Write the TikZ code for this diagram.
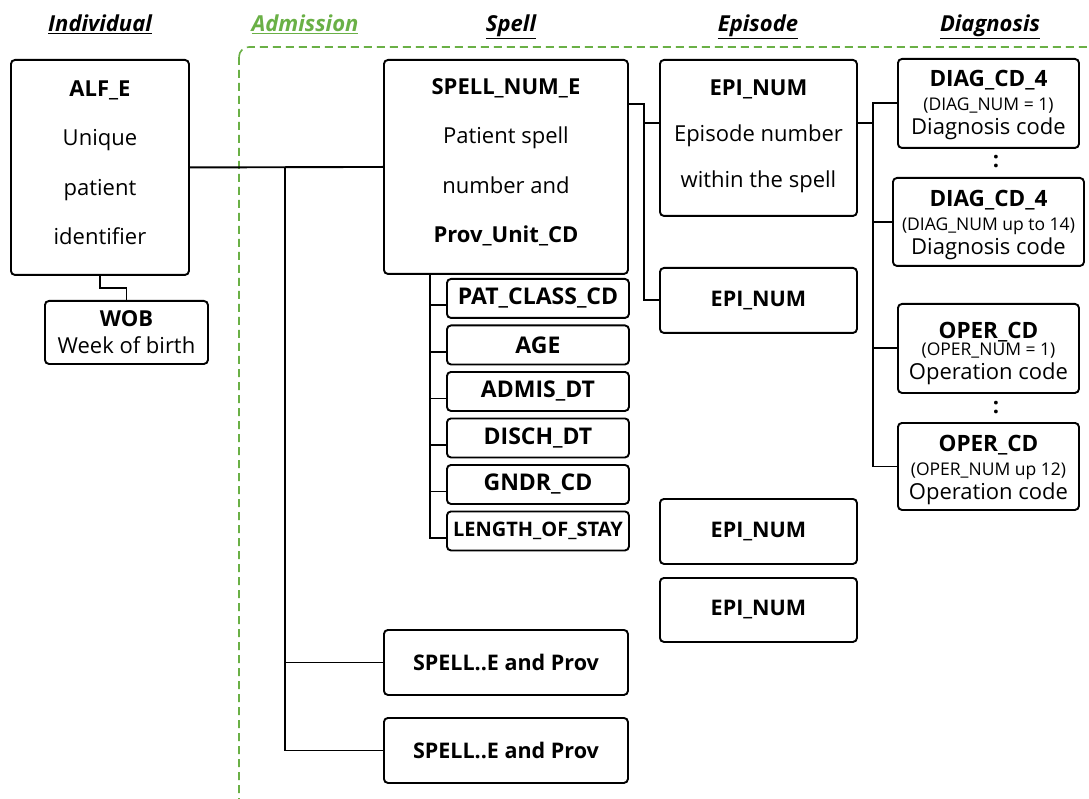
\documentclass[tikz,border=0pt]{standalone}
\usepackage{fontspec}
\setmainfont{Open Sans}
\definecolor{admgreen}{RGB}{106,176,70}
\tikzset{
  box/.style={draw, line width=1.9pt, rounded corners=4pt, anchor=north west, inner sep=0pt, align=center},
  conn/.style={line width=1.9pt},
  hdr/.style={font=\fontsize{22}{24}\selectfont\bfseries\itshape, anchor=base},
  attr/.style={box, minimum width=182pt, minimum height=39pt, font=\fontsize{23}{24}\selectfont\bfseries},
  onebold/.style={box, font=\fontsize{21.5}{24}\selectfont\bfseries},
  dg/.style={box, font=\fontsize{22}{24}\selectfont},
}
\newcommand{\smalltxt}[1]{{\fontsize{17.5}{24}\selectfont #1}}
\newcommand{\dgtitle}[1]{{\fontsize{22.5}{24}\selectfont\bfseries #1}}
\begin{document}
\begin{tikzpicture}[x=1pt,y=-1pt]
\useasboundingbox (0,0) rectangle (1089,799);
\begin{scope}
\clip (0,0) rectangle (1089,799);
\draw[admgreen, line width=1.6pt, dash pattern=on 8pt off 5pt, rounded corners=10pt] (239,47) rectangle (1120,830);
\end{scope}
% headers
\node[hdr] (hInd) at (100,32) {\underline{Individual}};
\node[hdr, text=admgreen] (hAdm) at (305,32) {\underline{Admission}};
\node[hdr] (hSp) at (511,32) {\underline{Spell}};
\node[hdr] (hEp) at (758,32) {\underline{Episode}};
\node[hdr] (hDg) at (990,32) {\underline{Diagnosis}};
% individual
\node[box, font=\fontsize{22}{49.5}\selectfont, minimum width=178pt, minimum height=215pt] (alf) at (10,59)
  {\textbf{ALF\_E}\\Unique\\patient\\identifier\\[-39.5pt]\mbox{}};
\node[box, font=\fontsize{22}{27}\selectfont, minimum width=163pt, minimum height=63pt] (wob) at (44,300)
  {\textbf{WOB}\\Week of birth};
% spells
\node[box, font=\fontsize{22}{49.5}\selectfont, minimum width=244pt, minimum height=214pt] (sp1) at (383,59)
  {\textbf{SPELL\_NUM\_E}\\Patient spell\\number and\\\textbf{Prov\_Unit\_CD}\\[-37pt]\mbox{}};
\node[onebold, minimum width=244pt, minimum height=65pt] (spA) at (383,629) {SPELL..E and Prov};
\node[onebold, minimum width=244pt, minimum height=65pt] (spB) at (383,717) {SPELL..E and Prov};
% attributes
\node[attr] (at1) at (446,278) {PAT\_CLASS\_CD};
\node[attr] (at2) at (446,324.5) {AGE};
\node[attr] (at3) at (446,371) {ADMIS\_DT};
\node[attr] (at4) at (446,417.5) {DISCH\_DT};
\node[attr] (at5) at (446,464) {GNDR\_CD};
\node[attr, font=\fontsize{20}{24}\selectfont\bfseries] (at6) at (446,510.5) {LENGTH\_OF\_STAY};
% episodes
\node[box, font=\fontsize{22}{46}\selectfont, minimum width=197pt, minimum height=156pt] (ep1) at (659,59)
  {\textbf{EPI\_NUM}\\Episode number\\within the spell\\[-37pt]\mbox{}};
\node[onebold, minimum width=197pt, minimum height=65pt] (ep2) at (659,267) {EPI\_NUM};
\node[onebold, minimum width=197pt, minimum height=65pt] (ep3) at (659,498) {EPI\_NUM};
\node[onebold, minimum width=197pt, minimum height=64pt] (ep4) at (659,577) {EPI\_NUM};
% diagnosis / operations
\node[dg, minimum width=181pt, minimum height=89pt] (dg1) at (897,58)
  {\mbox{}\\[-4pt]\dgtitle{DIAG\_CD\_4}\\\smalltxt{(DIAG\_NUM = 1)}\\Diagnosis code};
\node[dg, minimum width=191pt, minimum height=88pt] (dg2) at (892,177)
  {\mbox{}\\[-2pt]\dgtitle{DIAG\_CD\_4}\\\smalltxt{(DIAG\_NUM up to 14)}\\Diagnosis code};
\node[dg, minimum width=181pt, minimum height=89pt] (op1) at (897,303)
  {\mbox{}\\[2pt]\dgtitle{OPER\_CD}\\[-7pt]\smalltxt{(OPER\_NUM = 1)}\\Operation code};
\node[dg, minimum width=181pt, minimum height=87pt] (op2) at (897,422)
  {\mbox{}\\[-1pt]\dgtitle{OPER\_CD}\\\smalltxt{(OPER\_NUM up 12)}\\Operation code};
\node[font=\fontsize{22}{24}\selectfont\bfseries, inner sep=0pt] (col1) at (996,162) {:};
\node[font=\fontsize{22}{24}\selectfont\bfseries, inner sep=0pt] (col2) at (996,408) {:};
% connectors
\coordinate (b1) at (285,0);
\coordinate (b2) at (644,0);
\coordinate (b3) at (873,0);
\coordinate (b4) at (430,0);
\draw[conn] (alf.east) -- (sp1.west);
\draw[conn] (alf.east -| b1) |- (spB.west);
\draw[conn] (spA.west -| b1) -- (spA.west);
\draw[conn] (alf.south) -- ++(0,12) -| (wob.north);
\coordinate (s1o) at ([yshift=-45pt]sp1.north east);
\coordinate (e1i) at ([yshift=-64pt]ep1.north west);
\coordinate (e1o) at ([yshift=-64pt]ep1.north east);
\draw[conn] (s1o) -- (s1o -| b2) |- (ep2.west);
\draw[conn] (e1i -| b2) -- (e1i);
\draw[conn] (e1o) -- (e1o -| b3);
\draw[conn] (dg1.west) -| (b3 |- op2.west) -- (op2.west);
\draw[conn] (dg2.west -| b3) -- (dg2.west);
\draw[conn] (op1.west -| b3) -- (op1.west);
\draw[conn] (sp1.south -| b4) |- ([yshift=-7pt]at6.west);
\foreach \i in {1,...,5} {\draw[conn] ([yshift=-7pt]at\i.west -| b4) -- ([yshift=-7pt]at\i.west);}
\end{tikzpicture}
\end{document}
